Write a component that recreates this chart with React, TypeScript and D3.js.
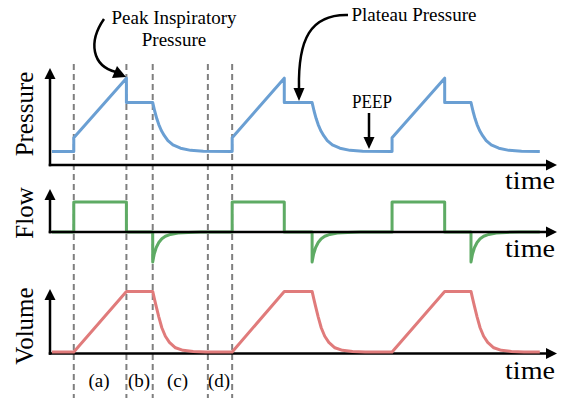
import React from 'react';
import * as d3 from 'd3';

// ---- data (time in s) ----
const pressurePts: [number, number][] = [
  [0.04, 5], [0.47, 5], [0.47, 10], [1.51, 32], [1.51, 23], [2.03, 23],
  [2.07, 19.8], [2.11, 17.1], [2.15, 14.9], [2.2, 12.7], [2.26, 10.8], [2.33, 9.0],
  [2.43, 7.4], [2.58, 6.2], [2.78, 5.4], [3.03, 5.1], [3.6, 5],
  [3.6, 10], [4.63, 32], [4.63, 23], [5.18, 23],
  [5.22, 19.8], [5.26, 17.1], [5.3, 14.9], [5.35, 12.7], [5.41, 10.8], [5.48, 9.0],
  [5.58, 7.4], [5.73, 6.2], [5.93, 5.4], [6.18, 5.1], [6.76, 5],
  [6.76, 10], [7.8, 32], [7.8, 23], [8.32, 23],
  [8.36, 19.8], [8.4, 17.1], [8.44, 14.9], [8.49, 12.7], [8.55, 10.8], [8.62, 9.0],
  [8.72, 7.4], [8.87, 6.2], [9.07, 5.4], [9.32, 5.1], [9.68, 5],
];

const flowPts: [number, number][] = [
  [0.04, 0], [0.47, 0], [0.47, 60], [1.51, 60], [1.51, 0], [2.03, 0], [2.03, -60],
  [2.06, -44], [2.1, -31], [2.15, -21], [2.21, -13.5], [2.28, -8.5], [2.38, -4.8],
  [2.53, -2.2], [2.73, -0.8], [2.98, 0], [3.6, 0],
  [3.6, 60], [4.63, 60], [4.63, 0], [5.18, 0], [5.18, -60],
  [5.21, -44], [5.25, -31], [5.3, -21], [5.36, -13.5], [5.43, -8.5], [5.53, -4.8],
  [5.68, -2.2], [5.88, -0.8], [6.13, 0], [6.76, 0],
  [6.76, 60], [7.8, 60], [7.8, 0], [8.32, 0], [8.32, -60],
  [8.35, -44], [8.39, -31], [8.44, -21], [8.5, -13.5], [8.57, -8.5], [8.67, -4.8],
  [8.82, -2.2], [9.02, -0.8], [9.27, 0], [9.68, 0],
];

const volumePts: [number, number][] = [
  [0.04, 0], [0.47, 0], [1.51, 500], [2.03, 500],
  [2.06, 445], [2.1, 375], [2.15, 290], [2.21, 200], [2.28, 130], [2.36, 80],
  [2.48, 35], [2.63, 14], [2.83, 4], [3.08, 0], [3.6, 0],
  [4.63, 500], [5.18, 500],
  [5.21, 445], [5.25, 375], [5.3, 290], [5.36, 200], [5.43, 130], [5.51, 80],
  [5.63, 35], [5.78, 14], [5.98, 4], [6.23, 0], [6.76, 0],
  [7.8, 500], [8.32, 500],
  [8.35, 445], [8.39, 375], [8.44, 290], [8.5, 200], [8.57, 130], [8.65, 80],
  [8.77, 35], [8.92, 14], [9.12, 4], [9.37, 0], [9.68, 0],
];

const phaseLines = [0.47, 1.51, 2.03, 3.12, 3.6];
const phaseLabels = ['(a)', '(b)', '(c)', '(d)'];
const phaseLabelTimes = [0.97, 1.76, 2.52, 3.34];

const panelNames = ['Pressure', 'Flow', 'Volume'];
const xLabel = 'time';

const peakLabel = ['Peak Inspiratory', 'Pressure'];
const plateauLabel = 'Plateau Pressure';
const peepLabel = 'PEEP';

// ---- layout ----
const W = 564;
const H = 398;
const FONT = '"Liberation Serif", "Times New Roman", serif';

const x = d3.scaleLinear().domain([0, 10]).range([50, 556]);
const yP = d3.scaleLinear().domain([0, 35]).range([165, 70]);
const yF = d3.scaleLinear().domain([-60, 84]).range([262, 190]);
const yV = d3.scaleLinear().domain([0, 520]).range([352, 289]);

const BLUE = '#6a9fd3';
const GREEN = '#5eab64';
const RED = '#e07b7b';

function Arrow({ x1, y1, x2, y2, size = 11, half = 5.5, w = 2.5 }: any) {
  const ang = Math.atan2(y2 - y1, x2 - x1);
  const bx = x2 - size * Math.cos(ang);
  const by = y2 - size * Math.sin(ang);
  const px = -Math.sin(ang) * half;
  const py = Math.cos(ang) * half;
  return (
    <g>
      <line x1={x1} y1={y1} x2={bx + Math.cos(ang)} y2={by + Math.sin(ang)} stroke="#000" strokeWidth={w} />
      <polygon points={`${x2},${y2} ${bx + px},${by + py} ${bx - px},${by - py}`} fill="#000" />
    </g>
  );
}

function Axes({ y0, top }: { y0: number; top: number }) {
  return (
    <g>
      <Arrow x1={50} y1={y0 + 1.25} x2={50} y2={top} />
      <Arrow x1={48.75} y1={y0} x2={557} y2={y0} />
    </g>
  );
}

export default function App() {
  const lineP = d3.line<[number, number]>().x((d) => x(d[0])).y((d) => yP(d[1]));
  const lineF = d3.line<[number, number]>().x((d) => x(d[0])).y((d) => yF(d[1]));
  const lineV = d3.line<[number, number]>().x((d) => x(d[0])).y((d) => yV(d[1]));

  const axisYs = [yP(0), yF(0), 353.5];
  const tops = [68, 189, 289];
  const labelYs = [114, 213, 326];
  const timeBaselines = [189, 257, 379];

  return (
    <svg
      width={W}
      height={H}
      style={{ position: 'absolute', left: 0, top: 0, background: '#fff' }}
      fontFamily={FONT}
    >
      {/* phase dashed lines */}
      {phaseLines.map((t, i) => (
        <line key={i} x1={x(t)} x2={x(t)} y1={64} y2={398} stroke="#7f7f7f" strokeWidth={2} strokeDasharray="6,4" />
      ))}

      {/* pressure */}
      <path d={lineP(pressurePts) || ''} fill="none" stroke={BLUE} strokeWidth={3} strokeLinejoin="round" />
      <Axes y0={axisYs[0]} top={tops[0]} />

      {/* flow */}
      <path d={lineF(flowPts) || ''} fill="none" stroke={GREEN} strokeWidth={3} strokeLinejoin="round" />
      <Axes y0={axisYs[1]} top={tops[1]} />

      {/* volume */}
      <Axes y0={axisYs[2]} top={tops[2]} />
      <path d={lineV(volumePts) || ''} fill="none" stroke={RED} strokeWidth={3} strokeLinejoin="round" />

      {/* panel labels */}
      {panelNames.map((n, i) => (
        <text
          key={n}
          transform={`translate(33,${labelYs[i]}) rotate(-90)`}
          textAnchor="middle"
          fontSize={25}
          fill="#000"
        >
          {n}
        </text>
      ))}

      {/* time labels */}
      {timeBaselines.map((yb, i) => (
        <text key={i} x={555} y={yb} textAnchor="end" fontSize={25} textLength={50} lengthAdjust="spacingAndGlyphs">
          {xLabel}
        </text>
      ))}

      {/* phase labels */}
      {phaseLabels.map((l, i) => (
        <text key={l} x={x(phaseLabelTimes[i])} y={387} textAnchor="middle" fontSize={19}>
          {l}
        </text>
      ))}

      {/* annotations */}
      <text x={174} y={24} textAnchor="middle" fontSize={19}>{peakLabel[0]}</text>
      <text x={174} y={46} textAnchor="middle" fontSize={19}>{peakLabel[1]}</text>
      <path d="M104,19 C88,42 92,66 116,72" fill="none" stroke="#000" strokeWidth={2.5} />
      <polygon points="126,77 112,78 117,66" fill="#000" />

      <text x={414} y={21} textAnchor="middle" fontSize={19}>{plateauLabel}</text>
      <path d="M348,15 C310,14 298,40 299,88" fill="none" stroke="#000" strokeWidth={2.5} />
      <polygon points="299,101 293.5,88 304.5,88" fill="#000" />

      <text x={372} y={108} textAnchor="middle" fontSize={19} textLength={40} lengthAdjust="spacingAndGlyphs">{peepLabel}</text>
      <Arrow x1={369} y1={113} x2={369} y2={149} size={12} half={5.5} w={2.5} />
    </svg>
  );
}
